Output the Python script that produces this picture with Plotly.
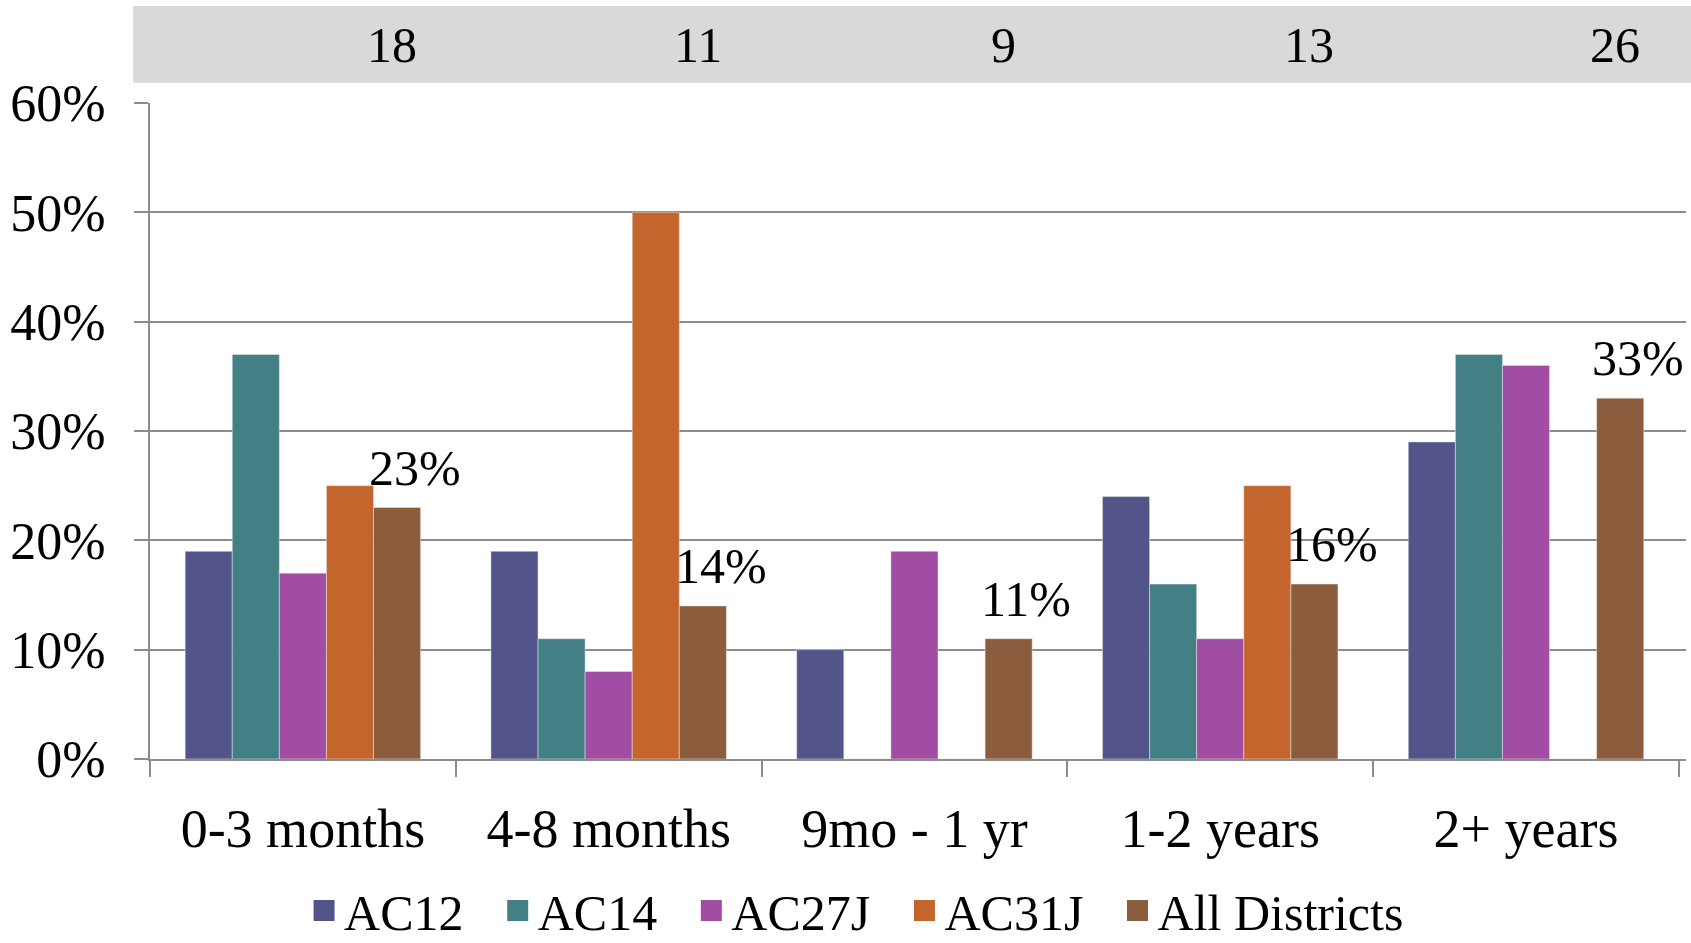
import plotly.graph_objects as go

categories = ["0-3 months", "4-8 months", "9mo - 1 yr", "1-2 years", "2+ years"]
counts = ["18", "11", "9", "13", "26"]
series_names = ["AC12", "AC14", "AC27J", "AC31J", "All Districts"]
ac12 = [0.19, 0.19, 0.10, 0.24, 0.29]
ac14 = [0.37, 0.11, 0.0, 0.16, 0.37]
ac27j = [0.17, 0.08, 0.19, 0.11, 0.36]
ac31j = [0.25, 0.50, 0.0, 0.25, 0.0]
all_districts = [0.23, 0.14, 0.11, 0.16, 0.33]
colors = ["#53548a", "#438086", "#a04da3", "#c4652d", "#8b5d3d"]

FONT = "Liberation Serif"
GRID = "#8c8c8c"
LEGEND_PAD = "\u2002\u200a"

fig = go.Figure()
for name, vals, col in zip(series_names, [ac12, ac14, ac27j, ac31j, all_districts], colors):
    fig.add_trace(go.Bar(x=categories, y=vals, name=name, marker=dict(color=col, line=dict(width=0.5, color="#e8e8e8")),
                         showlegend=False, hoverinfo="skip"))
for i, (name, col) in enumerate(zip(series_names, colors)):
    label = name if i == len(series_names) - 1 else name + LEGEND_PAD
    fig.add_trace(go.Scatter(x=[None], y=[None], mode="markers", name=label,
                             marker=dict(symbol="square", size=16, color=col, line=dict(width=5, color=col)),
                             showlegend=True))

# grey count band
fig.add_shape(type="rect", xref="paper", yref="paper", x0=-0.011, x1=1.01, y0=1.031, y1=1.148,
              fillcolor="#d9d9d9", line=dict(width=0), layer="below")
for cat, c in zip(categories, counts):
    fig.add_annotation(x=cat, xref="x", y=1.088, yref="paper", text=c, showarrow=False,
                       xshift=89, yanchor="middle", xanchor="center",
                       font=dict(family=FONT, size=50, color="black"))

# data labels for All Districts
for cat, v in zip(categories, all_districts):
    fig.add_annotation(x=cat, xref="x", y=v, yref="y", text=f"{round(v*100)}%", showarrow=False,
                       xshift=112, yshift=10, yanchor="bottom", xanchor="center",
                       font=dict(family=FONT, size=50, color="black"))

fig.update_layout(
    width=1691, height=943, autosize=False,
    margin=dict(l=150, r=5, t=103, b=184, autoexpand=False),
    plot_bgcolor="white", paper_bgcolor="white",
    barmode="group", bargap=0.23, bargroupgap=0,
    font=dict(family=FONT, color="black"),
    legend=dict(orientation="h", x=0.46, xanchor="center", y=-0.231, yanchor="middle",
                font=dict(family=FONT, size=50, color="black"), itemwidth=30,
                bgcolor="rgba(0,0,0,0)"),
)
fig.update_xaxes(type="category", tickson="boundaries", ticks="outside", ticklen=16, tickwidth=2,
                 tickcolor=GRID, showline=True, linecolor=GRID, linewidth=2, showgrid=False,
                 automargin=False,
                 tickfont=dict(family=FONT, size=54, color="black"), ticklabelstandoff=21)
fig.update_yaxes(range=[0, 0.6], dtick=0.1, tickformat=".0%", ticks="outside", ticklen=14, tickwidth=2,
                 tickcolor=GRID, showline=True, linecolor=GRID, linewidth=2, showgrid=True,
                 gridcolor=GRID, gridwidth=2, zeroline=False, automargin=False,
                 tickfont=dict(family=FONT, size=52, color="black"), ticklabelstandoff=18)

fig.write_html("out.html", config={"displayModeBar": False},
               post_script="document.body.style.margin='0px';document.body.style.overflow='hidden';")
